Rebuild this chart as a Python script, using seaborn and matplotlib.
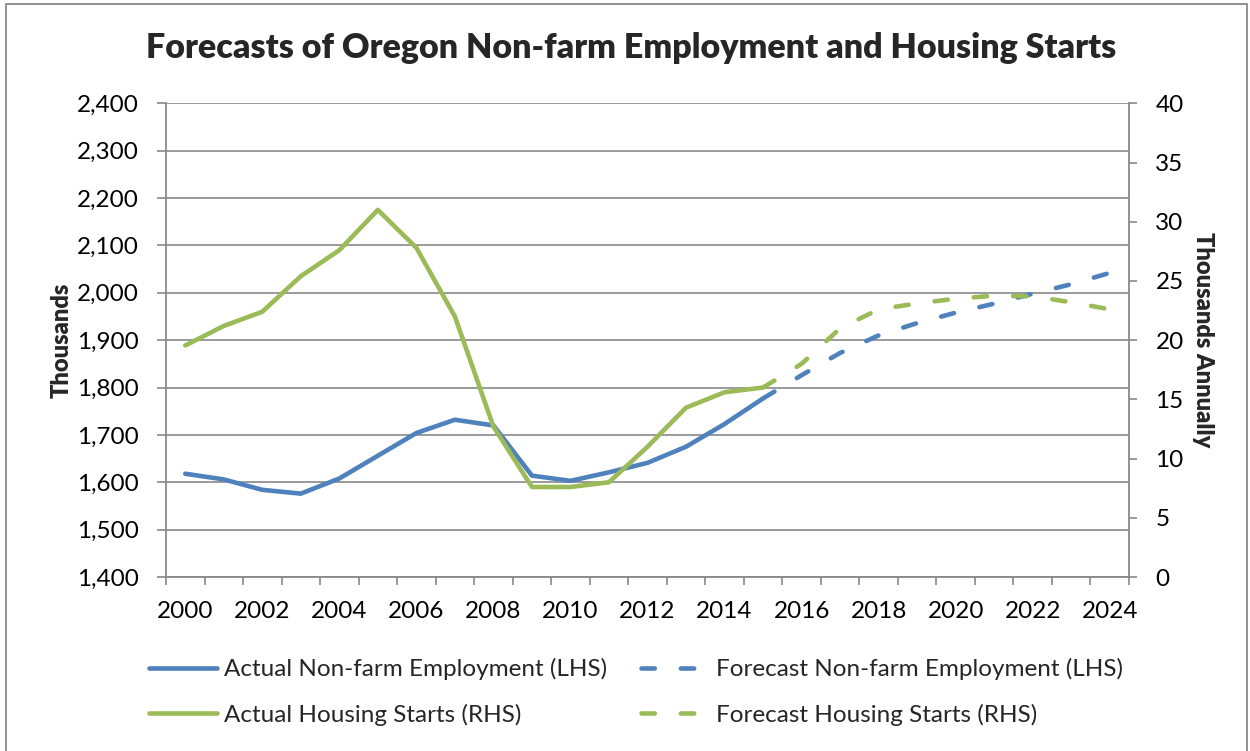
import matplotlib
matplotlib.use("Agg")
import matplotlib.pyplot as plt
from matplotlib.patches import Rectangle
import pandas as pd
import seaborn as sns

# ---- data ---------------------------------------------------------------
years = list(range(2000, 2025))
actual_years = list(range(2000, 2016))
forecast_years = list(range(2015, 2025))

# Oregon non-farm employment, thousands (left axis)
emp_actual = [1618, 1606, 1584, 1576, 1608, 1656, 1704, 1732, 1720,
              1614, 1603, 1621, 1641, 1675, 1723, 1777]
emp_forecast = [1777, 1826, 1873, 1910, 1936, 1958, 1977, 1998, 2018, 2042]

# Oregon housing starts, thousands annually (right axis)
housing_actual = [19.55, 21.2, 22.4, 25.4, 27.6, 31.0, 27.8, 22.0, 12.7,
                  7.6, 7.6, 8.0, 11.0, 14.3, 15.6, 16.0]
housing_forecast = [16.0, 18.0, 21.0, 22.6, 23.1, 23.5, 23.75, 23.7, 23.2, 22.6]

left_ticks = list(range(1400, 2401, 100))
right_ticks = list(range(0, 41, 5))
year_labels = [str(y) for y in years[::2]]

# ---- styling ------------------------------------------------------------
sns.set_theme(style="white")
plt.rcParams["font.family"] = ["Lato", "DejaVu Sans"]
plt.rcParams["lines.solid_capstyle"] = "round"
plt.rcParams["lines.dash_capstyle"] = "round"
plt.rcParams["lines.solid_joinstyle"] = "round"
plt.rcParams["lines.dash_joinstyle"] = "round"

BLUE = "#4F81BD"
GREEN = "#9BBB59"
GRID = "#898989"
LW = 3.3
DASH = (0, (2.9, 5.7))

fig = plt.figure(figsize=(12.5, 7.51), dpi=100)
W, H = 1250, 751
x0, x1, y0, y1 = 166, 1129, 103.3, 577
ax = fig.add_axes([x0 / W, 1 - y1 / H, (x1 - x0) / W, (y1 - y0) / H])
ax2 = ax.twinx()

pos = {y: i for i, y in enumerate(years)}
df_ea = pd.DataFrame({"x": [pos[y] for y in actual_years], "v": emp_actual})
df_ef = pd.DataFrame({"x": [pos[y] for y in forecast_years], "v": emp_forecast})
df_ha = pd.DataFrame({"x": [pos[y] for y in actual_years], "v": housing_actual})
df_hf = pd.DataFrame({"x": [pos[y] for y in forecast_years], "v": housing_forecast})

sns.lineplot(data=df_ea, x="x", y="v", ax=ax, color=BLUE, lw=LW,
             label="Actual Non-farm Employment (LHS)", legend=False)
sns.lineplot(data=df_ef, x="x", y="v", ax=ax, color=BLUE, lw=LW, linestyle=DASH,
             label="Forecast Non-farm Employment (LHS)", legend=False)
sns.lineplot(data=df_ha, x="x", y="v", ax=ax2, color=GREEN, lw=LW,
             label="Actual Housing Starts (RHS)", legend=False)
sns.lineplot(data=df_hf, x="x", y="v", ax=ax2, color=GREEN, lw=LW, linestyle=DASH,
             label="Forecast Housing Starts (RHS)", legend=False)

# ---- axes ---------------------------------------------------------------
ax.set_xlim(-0.5, len(years) - 0.5)
ax.set_ylim(1400, 2400)
ax2.set_ylim(0, 40)

ax.set_yticks(left_ticks)
ax.set_yticklabels([f"{t:,}" for t in left_ticks])
ax2.set_yticks(right_ticks)
ax2.set_yticklabels([str(t) for t in right_ticks])

ax.set_xticks(list(range(0, len(years), 2)))
ax.set_xticklabels(year_labels)
ax.set_xticks([i - 0.5 for i in range(len(years) + 1)], minor=True)

ax.yaxis.grid(True, color=GRID, lw=1.2)
ax.set_axisbelow(True)
ax.xaxis.grid(False)
ax2.grid(False)

for a in (ax, ax2):
    for s in a.spines.values():
        s.set_visible(False)
ax.spines["left"].set_visible(True)
ax.spines["bottom"].set_visible(True)
ax2.spines["right"].set_visible(True)
for s in (ax.spines["left"], ax.spines["bottom"], ax2.spines["right"]):
    s.set_color(GRID)
    s.set_linewidth(1.3)

TICK_FS = 17.5
ax.tick_params(axis="y", which="major", left=True, length=6.5, width=1.2,
               color=GRID, pad=13, labelsize=TICK_FS, labelcolor="black")
ax.tick_params(axis="x", which="major", bottom=True, length=0, pad=17,
               labelsize=TICK_FS, labelcolor="black")
ax.tick_params(axis="x", which="minor", bottom=True, length=6, width=1.2,
               color=GRID)
ax2.tick_params(axis="y", which="major", right=True, length=6, width=1.2,
                color=GRID, pad=13, labelsize=TICK_FS, labelcolor="black")

ax.set_xlabel("")
ax.set_ylabel("Thousands", fontsize=17, fontweight="heavy", labelpad=3)
ax2.set_ylabel("Thousands Annually", fontsize=17, fontweight="heavy",
               rotation=270, va="bottom", labelpad=6)

fig.text(631 / W, 1 - 48 / H,
         "Forecasts of Oregon Non-farm Employment and Housing Starts",
         ha="center", va="center", fontsize=24.5, fontweight="heavy")

# ---- legend -------------------------------------------------------------
h1, l1 = ax.get_legend_handles_labels()
h2, l2 = ax2.get_legend_handles_labels()
handles = [h1[0], h2[0], h1[1], h2[1]]
labels = [l1[0], l2[0], l1[1], l2[1]]
fig.legend(handles, labels, ncol=2, loc="center",
           bbox_to_anchor=(636 / W, 1 - 692 / H), frameon=False,
           fontsize=17.5, handlelength=2.8, handletextpad=0.3,
           columnspacing=1.4, labelspacing=0.95)

# chart frame
fig.add_artist(Rectangle((6 / W, -0.05), (1247 - 6) / W, 1.05 - 4 / H,
                         transform=fig.transFigure, fill=False,
                         edgecolor=GRID, lw=1.3))

fig.savefig("out.png", dpi=100)
